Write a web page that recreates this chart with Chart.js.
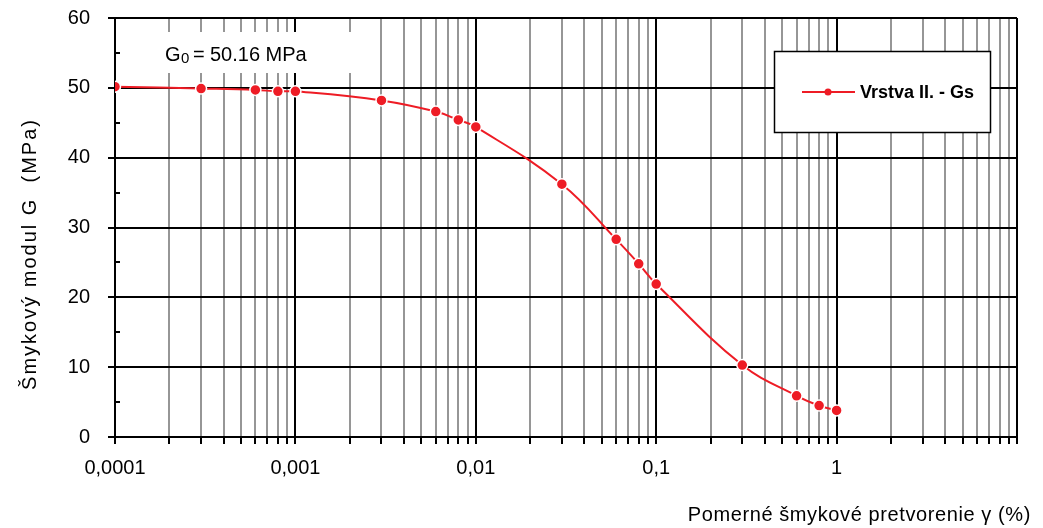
<!DOCTYPE html>
<html>
<head>
<meta charset="utf-8">
<script src="https://cdn.jsdelivr.net/npm/chart.js@4/dist/chart.umd.min.js"></script>
<style>
  html, body { margin: 0; padding: 0; background: #fff; }
  #wrap { width: 1043px; height: 528px; }
</style>
</head>
<body>
<div id="wrap"><canvas id="gChart" width="1043" height="528"></canvas></div>
<script>
// strain (%) and shear modulus (MPa)
var strain = [0.0001, 0.0003, 0.0006, 0.0008, 0.001, 0.003, 0.006, 0.008, 0.01,
              0.03, 0.06, 0.08, 0.1, 0.3, 0.6, 0.8, 1];
var modulus = [50.16, 49.9, 49.7, 49.5, 49.5, 48.2, 46.6, 45.4, 44.4,
               36.2, 28.3, 24.8, 21.9, 10.3, 5.9, 4.5, 3.8];

var xDecades = [0.0001, 0.001, 0.01, 0.1, 1, 10];
var xTickLabels = ['0,0001', '0,001', '0,01', '0,1', '1', ''];
var yTicks = [0, 10, 20, 30, 40, 50, 60];

var seriesName = 'Vrstva II. - Gs';
var g0Value = '50.16 MPa';
var xTitle = 'Pomerné šmykové pretvorenie γ (%)';
var yTitle = 'Šmykový modul G  (MPa)';

var red = '#EE1C25';
var font = "'Liberation Sans', Arial, sans-serif";

function isDecade(v) {
    var l = Math.log10(v);
    return Math.abs(l - Math.round(l)) < 1e-6;
}

var extras = {
    id: 'extras',
    beforeDatasetsDraw: function (chart) {
        var c = chart.ctx;
        var y = chart.scales.y;
        var area = chart.chartArea;
        c.save();

        // y axis tick marks: majors outside, minors (5, 15, ...) across the axis
        c.strokeStyle = '#000';
        c.lineWidth = 2;
        for (var v = 0; v <= 60; v += 5) {
            var py = Math.round(y.getPixelForValue(v));
            c.beginPath();
            if (v % 10 === 0) {
                c.moveTo(area.left - 7, py);
                c.lineTo(area.left, py);
            } else {
                c.moveTo(area.left - 1, py);
                c.lineTo(area.left + 5, py);
            }
            c.stroke();
        }

        // G0 label box
        c.fillStyle = '#fff';
        c.fillRect(150, 32, 206, 41);
        c.fillStyle = '#000';
        c.textBaseline = 'alphabetic';
        c.textAlign = 'left';
        c.font = '20px ' + font;
        c.fillText('G', 165, 61);
        c.font = '15px ' + font;
        c.fillText('0', 181, 63);
        c.font = '20px ' + font;
        c.fillText('=', 193, 61);
        c.fillText(g0Value, 210, 61);

        // legend box
        c.fillStyle = '#fff';
        c.fillRect(774, 51, 217, 82);
        c.strokeStyle = '#000';
        c.lineWidth = 1.5;
        c.strokeRect(774.5, 51.5, 216, 81);
        c.strokeStyle = red;
        c.lineWidth = 2;
        c.beginPath();
        c.moveTo(802, 92);
        c.lineTo(855, 92);
        c.stroke();
        c.fillStyle = red;
        c.beginPath();
        c.arc(828, 92, 3.5, 0, Math.PI * 2);
        c.fill();
        c.fillStyle = '#000';
        c.font = 'bold 18px ' + font;
        c.textBaseline = 'middle';
        c.fillText(seriesName, 860, 93);

        c.restore();
    },
    afterDraw: function (chart) {
        var c = chart.ctx;
        c.save();
        c.fillStyle = '#000';
        c.font = '20px ' + font;
        c.textAlign = 'right';
        c.textBaseline = 'alphabetic';
        c.letterSpacing = '0.6px';
        c.fillText(xTitle, 1031, 521);

        c.translate(36, 254);
        c.rotate(-Math.PI / 2);
        c.textAlign = 'center';
        c.letterSpacing = '2px';
        c.fillText(yTitle, 0, 0);
        c.restore();
    }
};

var ctx = document.getElementById('gChart');

var chart = new Chart(ctx, {
    type: 'line',
    data: {
        datasets: [{
            label: seriesName,
            data: strain.map(function (s, i) { return { x: s, y: modulus[i] }; }),
            borderColor: red,
            backgroundColor: red,
            borderWidth: 2,
            pointRadius: 5.5,
            pointBorderColor: '#fff',
            pointBorderWidth: 1.5,
            pointBackgroundColor: red,
            tension: 0.4,
            fill: false
        }]
    },
    options: {
        responsive: false,
        animation: false,
        layout: { padding: { left: 0, top: 18, right: 26, bottom: 0 } },
        plugins: {
            legend: { display: false },
            tooltip: { enabled: false }
        },
        scales: {
            x: {
                type: 'logarithmic',
                min: 0.0001,
                max: 10,
                afterBuildTicks: function (scale) {
                    var t = [];
                    for (var d = 0; d < xDecades.length - 1; d++) {
                        for (var m = 1; m <= 9; m++) {
                            t.push({ value: +(m * xDecades[d]).toPrecision(6) });
                        }
                    }
                    t.push({ value: 10 });
                    scale.ticks = t;
                },
                afterFit: function (scale) { scale.height = 91; },
                border: { display: true, color: '#000', width: 2 },
                grid: {
                    color: function (c) {
                        return isDecade(c.tick.value) ? '#000' : '#969696';
                    },
                    lineWidth: 2,
                    drawTicks: true,
                    tickLength: 7,
                    tickColor: '#000',
                    tickWidth: 2
                },
                ticks: {
                    autoSkip: false,
                    maxRotation: 0,
                    padding: 12,
                    color: '#000',
                    font: { family: font, size: 20 },
                    callback: function (value) {
                        for (var i = 0; i < xDecades.length; i++) {
                            if (Math.abs(value - xDecades[i]) < xDecades[i] * 1e-6) return xTickLabels[i];
                        }
                        return '';
                    }
                }
            },
            y: {
                min: 0,
                max: 60,
                afterBuildTicks: function (scale) {
                    scale.ticks = yTicks.map(function (v) { return { value: v }; });
                },
                afterFit: function (scale) { scale.width = 115; },
                border: { display: true, color: '#000', width: 2 },
                grid: {
                    color: '#000',
                    lineWidth: 2,
                    drawTicks: true,
                    tickLength: 19,
                    tickColor: 'rgba(0,0,0,0)'
                },
                ticks: {
                    padding: 6,
                    color: '#000',
                    font: { family: font, size: 20 }
                }
            }
        }
    },
    plugins: [extras]
});
</script>
</body>
</html>
